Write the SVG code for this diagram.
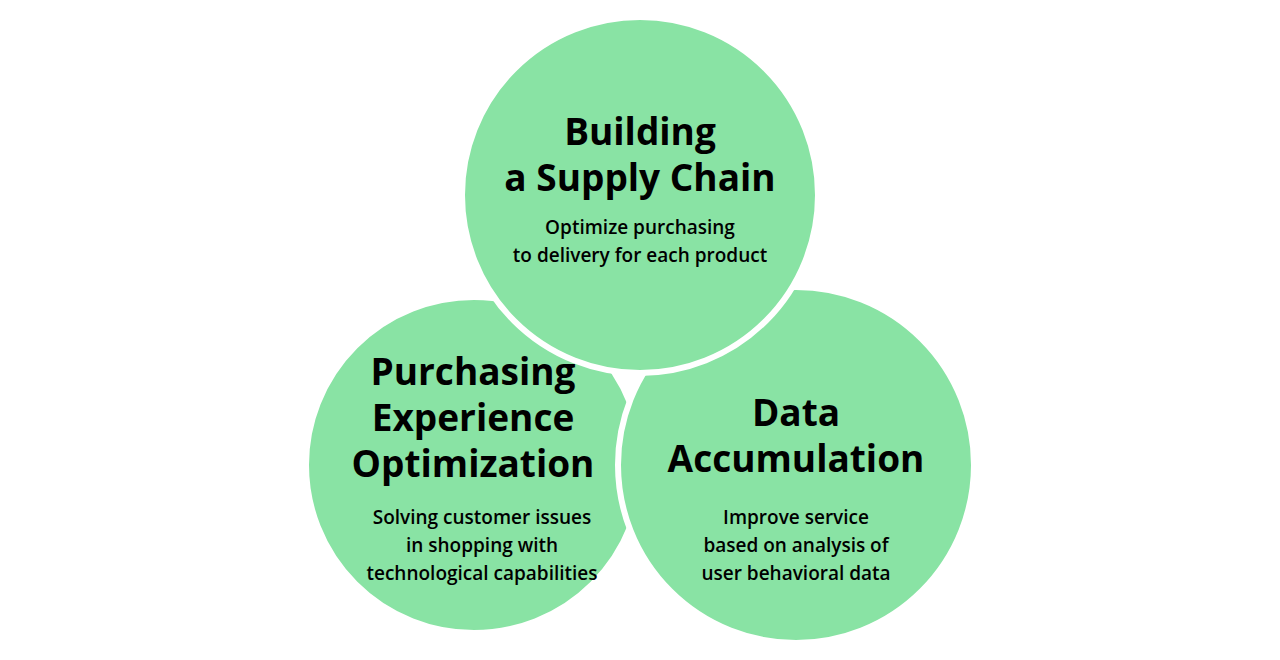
<svg xmlns="http://www.w3.org/2000/svg" width="1280" height="660" viewBox="0 0 1280 660">
<style>
.c{fill:#89e3a4;stroke:#fff;stroke-width:6}
.t{font-family:"Open Sans",sans-serif;font-weight:700;font-size:37px;fill:#000;text-anchor:middle}
.s{font-family:"Open Sans",sans-serif;font-weight:600;font-size:19px;fill:#000;text-anchor:middle}
</style>
<rect width="1280" height="660" fill="#fff"/>
<g id="left"><circle class="c" cx="474" cy="465" r="168"/>
<text class="t" x="473" y="385">Purchasing</text><text class="t" x="473" y="431">Experience</text><text class="t" x="473" y="477">Optimization</text>
<text class="s" x="482" y="524">Solving customer issues</text><text class="s" x="482" y="552">in shopping with</text><text class="s" x="482" y="580">technological capabilities</text></g>
<g id="right"><circle class="c" cx="796" cy="465" r="178"/>
<text class="t" x="796" y="426">Data</text><text class="t" x="796" y="472">Accumulation</text>
<text class="s" x="796" y="524">Improve service</text><text class="s" x="796" y="552">based on analysis of</text><text class="s" x="796" y="580">user behavioral data</text></g>
<g id="top"><circle class="c" cx="640" cy="195" r="178"/>
<text class="t" x="640" y="145">Building</text><text class="t" x="640" y="191">a Supply Chain</text>
<text class="s" x="640" y="234">Optimize purchasing</text><text class="s" x="640" y="262">to delivery for each product</text></g>
<g id="connectors"/>
</svg>
